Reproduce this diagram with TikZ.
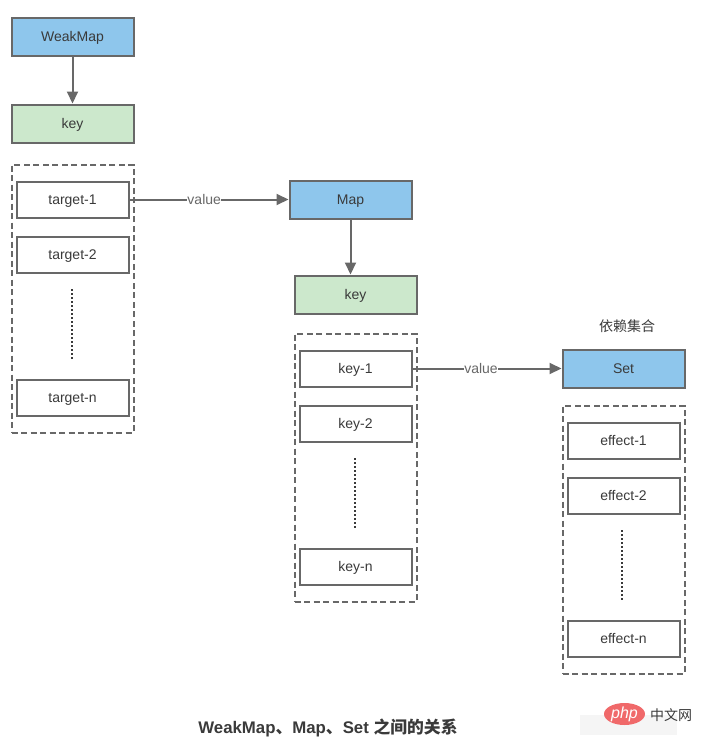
\documentclass[tikz,border=0pt]{standalone}
\usepackage{fontspec}
\setmainfont{Liberation Sans}
\newfontfamily\cjk{Noto Sans CJK SC}
\usetikzlibrary{arrows.meta,shapes.geometric}
\definecolor{edge}{HTML}{686868}
\definecolor{ink}{HTML}{3A3A3A}
\definecolor{bluefill}{HTML}{8EC6EC}
\definecolor{greenfill}{HTML}{CCE8CC}
\definecolor{phpred}{HTML}{F0696A}
\tikzset{
  x=1pt,y=-1pt,
  boxbase/.style={draw=edge,line width=2pt,minimum width=122pt,minimum height=38pt,inner sep=0pt,text=ink,font=\fontsize{14}{16}\selectfont,text height=11pt,text depth=2pt},
  bluebox/.style={boxbase,fill=bluefill},
  greenbox/.style={boxbase,fill=greenfill},
  itembox/.style={boxbase,fill=white,minimum width=112pt,minimum height=36pt},
  groupbox/.style={draw=edge,line width=2pt,dash pattern=on 6pt off 3.5pt,minimum width=122pt,minimum height=268pt,inner sep=0pt},
  conn/.style={draw=edge,line width=2pt,-{Triangle[length=12pt,width=11pt]}},
  dotline/.style={draw=ink,line width=2pt,dash pattern=on 2pt off 2pt},
  vlabel/.style={fill=white,inner sep=0.5pt,text=edge,font=\fontsize{14}{16}\selectfont},
}
\begin{document}
\begin{tikzpicture}
\useasboundingbox (0,0) rectangle (704,747);
% column 1
\node[groupbox] (g1) at (72.5,298.5) {};
\node[bluebox] (weakmap) at (72.5,36.5) {WeakMap};
\node[greenbox] (key1) at (72.5,123.5) {key};
\node[itembox] (t1) at (72.5,199.5) {target-1};
\node[itembox] (t2) at (72.5,254.5) {target-2};
\node[itembox] (tn) at (72.5,397.5) {target-n};
\coordinate (d1a) at (71.5,289);
\coordinate (d1b) at (71.5,360);
\draw[dotline] (d1a) -- (d1b);
% column 2
\node[groupbox] (g2) at (355.5,467.5) {};
\node[bluebox] (map) at (350.5,199.5) {Map};
\node[greenbox] (key2) at (355.5,294.5) {key};
\node[itembox] (k1) at (355.5,368.5) {key-1};
\node[itembox] (k2) at (355.5,423.5) {key-2};
\node[itembox] (kn) at (355.5,566.5) {key-n};
\coordinate (d2a) at (354.5,458);
\coordinate (d2b) at (354.5,529);
\draw[dotline] (d2a) -- (d2b);
% column 3
\node[groupbox] (g3) at (623.5,539.5) {};
\node[bluebox] (set) at (623.5,368.5) {Set};
\node[itembox] (e1) at (623.5,440.5) {effect-1};
\node[itembox] (e2) at (623.5,495.5) {effect-2};
\node[itembox] (en) at (623.5,638.5) {effect-n};
\coordinate (d3a) at (621.5,530);
\coordinate (d3b) at (621.5,601);
\draw[dotline] (d3a) -- (d3b);
% connectors
\draw[conn] (weakmap) -- (key1);
\draw[conn] (map) -- (map |- key2.north);
\draw[conn] (t1) -- node[vlabel,pos=0.47] (v1) {value} (map);
\draw[conn] (k1) -- node[vlabel,pos=0.46] (v2) {value} (set);
% labels
\node[text=ink,font=\cjk\fontsize{14}{16}\selectfont] (dep) at (627,326) {依赖集合};
\node[text=ink,font=\fontsize{16.8}{19}\selectfont\bfseries] (title) at (328,727.5) {WeakMap{\cjk 、}Map{\cjk 、}Set {\cjk 之间的关系}};
% watermark
\node[fill=black!4,minimum width=97pt,minimum height=20pt,inner sep=0pt] (wmbg) at (628.5,725) {};
\node[ellipse,fill=phpred,minimum width=41pt,minimum height=22pt,inner sep=0pt,text=white,font=\fontsize{16}{18}\selectfont\itshape] (php) at (624.5,714) {php};
\node[text=ink,font=\cjk\fontsize{14}{16}\selectfont] (cn) at (671,715) {中文网};
\end{tikzpicture}
\end{document}
